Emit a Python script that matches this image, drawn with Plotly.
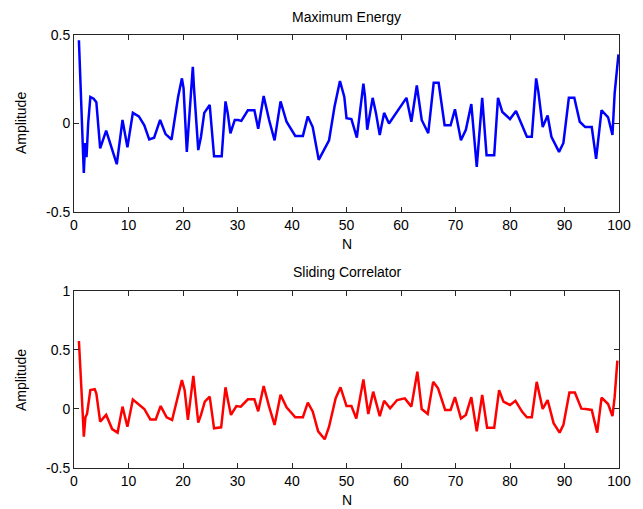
import plotly.graph_objects as go
from plotly.subplots import make_subplots

# Maximum Energy (top) - vertex positions (N) and amplitudes
top_n = [0.9, 1.14, 1.44, 1.6, 1.8, 2.04, 2.3, 2.6, 3.0, 3.6, 4.1, 4.8, 5.9, 7.85, 8.9, 9.8,
         10.8, 11.9, 12.9, 13.8, 14.7, 15.8, 16.8, 17.9, 19.1, 19.8, 20.1, 20.7, 21.8, 22.0,
         22.8, 23.3, 23.9, 24.9, 25.7, 27.1, 27.8, 28.2, 28.7, 29.5, 30.1, 30.7, 31.9, 33.1,
         33.8, 34.8, 35.8, 36.8, 37.9, 39.0, 40.6, 42.0, 42.9, 43.8, 44.9, 46.8, 47.8, 48.8,
         49.6, 50.0, 50.9, 51.9, 53.1, 53.4, 53.8, 54.8, 55.4, 56.1, 56.9, 57.8, 61.0, 61.9,
         62.9, 63.8, 65.0, 66.0, 66.9, 68.0, 69.1, 69.9, 71.0, 71.9, 72.9, 73.9, 74.9, 75.7,
         77.1, 77.8, 78.6, 80.0, 81.1, 83.1, 84.0, 84.8, 85.2, 86.0, 86.9, 87.6, 89.0, 89.8,
         90.8, 91.8, 92.8, 93.8, 95.0, 95.8, 96.8, 98.0, 98.8, 99.2, 99.9]
top_amp = [0.47, 0.285, 0.09, -0.09, -0.28, -0.11, -0.19, 0.0, 0.15, 0.14, 0.12, -0.14, -0.04,
           -0.23, 0.02, -0.135, 0.06, 0.04, -0.01, -0.09, -0.08, 0.02, -0.06, -0.09, 0.15,
           0.255, 0.2, -0.16, 0.32, 0.21, -0.15, -0.075, 0.06, 0.105, -0.185, -0.185, 0.125,
           0.06, -0.055, 0.02, 0.02, 0.015, 0.075, 0.075, -0.03, 0.155, 0.02, -0.095, 0.125,
           0.01, -0.07, -0.07, 0.04, -0.02, -0.205, -0.095, 0.095, 0.24, 0.15, 0.03, 0.025,
           -0.08, 0.225, 0.15, -0.035, 0.145, 0.06, -0.065, 0.06, 0.0, 0.145, 0.01, 0.215,
           0.02, -0.055, 0.23, 0.23, -0.01, -0.01, 0.08, -0.095, -0.036, 0.11, -0.245, 0.145,
           -0.18, -0.18, 0.145, 0.065, 0.025, 0.07, -0.075, -0.075, 0.255, 0.18, -0.02, 0.045,
           -0.075, -0.16, -0.11, 0.145, 0.145, 0.01, -0.02, -0.02, -0.2, 0.075, 0.035, -0.065,
           0.17, 0.39]

# Sliding Correlator (bottom)
bot_n = [0.9, 1.14, 1.44, 1.6, 1.8, 2.1, 2.4, 3.0, 3.8, 4.1, 4.8, 5.9, 7.0, 8.0, 8.9, 9.8,
         10.8, 11.9, 12.9, 14.0, 15.0, 15.9, 17.0, 18.0, 19.1, 19.8, 20.3, 20.9, 21.9, 22.1,
         22.8, 23.3, 24.0, 24.9, 25.7, 27.0, 27.8, 28.3, 28.8, 29.8, 30.6, 31.9, 33.1, 33.8,
         34.8, 35.8, 36.8, 37.9, 39.0, 40.6, 42.0, 42.9, 43.8, 44.8, 46.0, 46.8, 48.0, 48.9,
         50.0, 50.9, 51.8, 53.1, 54.0, 54.9, 56.1, 56.9, 58.0, 59.3, 60.7, 61.9, 63.0, 63.8,
         64.9, 65.9, 66.8, 68.1, 69.1, 69.9, 71.0, 71.9, 72.9, 73.9, 74.9, 75.8, 77.1, 78.0,
         78.8, 80.0, 81.0, 82.2, 83.1, 84.0, 84.9, 86.0, 86.9, 88.0, 89.1, 89.8, 90.9, 91.9,
         93.1, 93.9, 95.0, 96.0, 96.8, 98.0, 98.8, 99.2, 99.7]
bot_amp = [0.576, 0.387, 0.175, -0.04, -0.235, -0.07, -0.04, 0.16, 0.167, 0.13, -0.107, -0.05,
           -0.17, -0.2, 0.02, -0.15, 0.08, 0.035, 0.0, -0.088, -0.088, 0.025, -0.07, -0.093,
           0.12, 0.245, 0.16, -0.093, 0.28, 0.19, -0.116, -0.05, 0.062, 0.105, -0.164, -0.155,
           0.184, 0.062, -0.05, 0.025, 0.02, 0.082, 0.082, -0.02, 0.195, 0.02, -0.135, 0.12,
           0.015, -0.07, -0.07, 0.054, -0.02, -0.19, -0.257, -0.15, 0.09, 0.184, 0.025, 0.025,
           -0.08, 0.25, -0.042, 0.147, -0.06, 0.07, 0.006, 0.076, 0.09, 0.02, 0.316, 0.0,
           -0.042, 0.23, 0.175, -0.008, -0.008, 0.1, -0.08, -0.05, 0.1, -0.19, 0.12, -0.158,
           -0.158, 0.16, 0.062, 0.034, 0.07, -0.022, -0.07, -0.07, 0.23, 0.0, 0.076, -0.12,
           -0.2, -0.135, 0.14, 0.14, 0.003, 0.0, -0.008, -0.2, 0.096, 0.042, -0.06, 0.1, 0.41]

x_ticks = [0, 10, 20, 30, 40, 50, 60, 70, 80, 90, 100]
top_yticks = [-0.5, 0, 0.5]
bot_yticks = [-0.5, 0, 0.5, 1]

FONT = "Liberation Sans, Arial, sans-serif"
AX = "#262626"
FS = 14

fig = make_subplots(rows=2, cols=1, vertical_spacing=0.0)
fig.add_trace(go.Scatter(x=top_n, y=top_amp, mode="lines",
                         line=dict(color="#0000ff", width=2.5), showlegend=False), row=1, col=1)
fig.add_trace(go.Scatter(x=bot_n, y=bot_amp, mode="lines",
                         line=dict(color="#ff0000", width=2.5), showlegend=False), row=2, col=1)

axis_common = dict(showline=True, linecolor=AX, linewidth=1, mirror="ticks", ticks="inside",
                   ticklen=5, tickcolor=AX, showgrid=False, zeroline=False,
                   tickfont=dict(family=FONT, size=FS, color="#000000"))

fig.update_xaxes(range=[0, 100], tickvals=x_ticks, ticktext=[str(v) for v in x_ticks], **axis_common)
fig.update_yaxes(**axis_common)
fig.update_yaxes(range=[-0.5, 0.5], tickvals=top_yticks, ticktext=["-0.5", "0", "0.5"], row=1, col=1)
fig.update_yaxes(range=[-0.5, 1], tickvals=bot_yticks, ticktext=["-0.5", "0", "0.5", "1"], row=2, col=1)

fig.update_layout(xaxis=dict(domain=[0, 1]), yaxis=dict(domain=[0.5912, 1.0]),
                  xaxis2=dict(domain=[0, 1]), yaxis2=dict(domain=[0.0, 0.4088]))

def ann(text, x, y, angle=0):
    return dict(text=text, x=x, y=y, xref="paper", yref="paper", showarrow=False,
                xanchor="center", yanchor="middle", textangle=angle,
                font=dict(family=FONT, size=FS, color="#000000"))

# page body has an 8px margin: figure placed at (8, 8)
fig.update_layout(
    width=635, height=501,
    margin=dict(l=66, r=13, t=27, b=41),
    paper_bgcolor="#ffffff", plot_bgcolor="#ffffff",
    annotations=[
        ann("Maximum Energy", 0.5, 1.0416),
        ann("N", 0.5, 0.5173),
        ann("Sliding Correlator", 0.5, 0.4527),
        ann("N", 0.5, -0.0739),
        ann("Amplitude", -0.0971, 0.7968, -90),
        ann("Amplitude", -0.0971, 0.2032, -90),
    ],
)

fig.write_html("out.html")
